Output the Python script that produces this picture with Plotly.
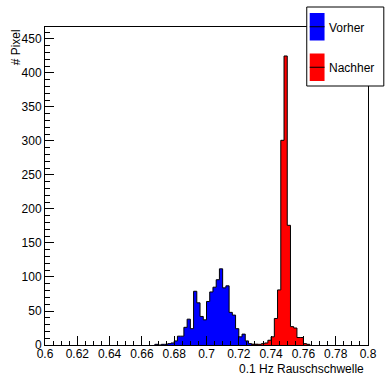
import plotly.graph_objects as go

bin_width = 0.002

vorher_left = [0.668, 0.670, 0.672, 0.674, 0.676, 0.678, 0.680, 0.682, 0.684, 0.686,
               0.688, 0.690, 0.692, 0.694, 0.696, 0.698, 0.700, 0.702, 0.704, 0.706,
               0.708, 0.710, 0.712, 0.714, 0.716, 0.718, 0.720, 0.722, 0.724, 0.726,
               0.728, 0.730]
vorher_counts = [1, 0, 1, 1, 2, 3, 6, 13, 13, 26,
                 38, 24, 79, 62, 42, 37, 64, 78, 85, 96,
                 112, 84, 87, 48, 44, 24, 12, 16, 6, 2,
                 1, 1]

nachher_left = [0.728, 0.730, 0.732, 0.734, 0.736, 0.738, 0.740, 0.742, 0.744, 0.746,
                0.748, 0.750, 0.752, 0.754, 0.756, 0.758, 0.760, 0.762]
nachher_counts = [1, 1, 1, 2, 3, 7, 12, 39, 81, 301,
                  425, 176, 27, 25, 11, 11, 2, 1]

x_ticks = [0.6, 0.62, 0.64, 0.66, 0.68, 0.7, 0.72, 0.74, 0.76, 0.78, 0.8]
x_ticktext = ["0.6", "0.62", "0.64", "0.66", "0.68", "0.7", "0.72", "0.74", "0.76", "0.78", "0.8"]
y_ticks = [0, 50, 100, 150, 200, 250, 300, 350, 400, 450]

series_names = ["Vorher", "Nachher"]
series_colors = ["#0000ff", "#ff0000"]

W, H = 389, 375
L, R, T, B = 45, 372, 27, 345
FONT = "Liberation Sans, Arial, Helvetica, sans-serif"


def steps(lefts, counts):
    xs = [lefts[0]] + list(lefts) + [lefts[-1] + bin_width]
    ys = [0] + list(counts) + [0]
    return xs, ys


def px(xp):
    return (xp - L) / (R - L)


def py(yp):
    return (B - yp) / (B - T)


fig = go.Figure()
for (lefts, counts), name, col in zip(
        [(vorher_left, vorher_counts), (nachher_left, nachher_counts)],
        series_names, series_colors):
    xs, ys = steps(lefts, counts)
    fig.add_trace(go.Scatter(x=xs, y=ys, mode="lines", line_shape="hv",
                             fill="tozeroy", fillcolor=col,
                             line=dict(color="black", width=1),
                             name=name, showlegend=False, hoverinfo="skip"))

axis_common = dict(showgrid=False, zeroline=False, showline=True, linecolor="black",
                   linewidth=1, mirror=True, ticks="inside", tickcolor="black",
                   tickfont=dict(family=FONT, size=12, color="black"))

fig.update_layout(
    width=W, height=H,
    margin=dict(l=L, r=W - R, t=T, b=H - B, pad=0),
    paper_bgcolor="white", plot_bgcolor="white",
    font=dict(family=FONT, color="black"),
    xaxis=dict(range=[0.6, 0.8], tickmode="array", tickvals=x_ticks, ticktext=x_ticktext,
               ticklen=9, tickwidth=1, ticklabelstandoff=-2,
               minor=dict(tickmode="linear", tick0=0.6, dtick=0.005, ticks="inside",
                          ticklen=4.5, tickcolor="black", showgrid=False),
               **axis_common),
    yaxis=dict(range=[0, 467.6], tickmode="array", tickvals=y_ticks,
               ticklen=9, tickwidth=1,
               minor=dict(tickmode="linear", tick0=0, dtick=10, ticks="inside",
                          ticklen=4.5, tickcolor="black", showgrid=False),
               **axis_common),
    showlegend=False,
)

# axis titles
fig.add_annotation(text="0.1 Hz Rauschschwelle", xref="paper", yref="paper",
                   x=px(370), y=py(368.5), xanchor="right", yanchor="middle",
                   showarrow=False, font=dict(family=FONT, size=12, color="black"))
fig.add_annotation(text="# Pixel", xref="paper", yref="paper", textangle=-90,
                   x=px(16), y=py(27), xanchor="center", yanchor="top",
                   showarrow=False, font=dict(family=FONT, size=12, color="black"))

# legend box
fig.add_shape(type="rect", xref="paper", yref="paper", x0=px(310), x1=px(388),
              y0=py(86), y1=py(7), fillcolor="white", line=dict(color="black", width=1),
              layer="above")
for i, (name, col) in enumerate(zip(series_names, series_colors)):
    top = 13 + i * 40.5
    bot = top + 27.5
    mid = (top + bot) / 2
    fig.add_shape(type="rect", xref="paper", yref="paper", x0=px(313), x1=px(328),
                  y0=py(bot), y1=py(top), fillcolor=col, line=dict(width=0), layer="above")
    fig.add_shape(type="line", xref="paper", yref="paper", x0=px(313), x1=px(328),
                  y0=py(mid), y1=py(mid), line=dict(color="black", width=1), layer="above")
    fig.add_annotation(text=name, xref="paper", yref="paper", x=px(330), y=py(mid + 1),
                       xanchor="left", yanchor="middle", showarrow=False,
                       font=dict(family=FONT, size=12, color="black"))

fig.write_html("out.html")
